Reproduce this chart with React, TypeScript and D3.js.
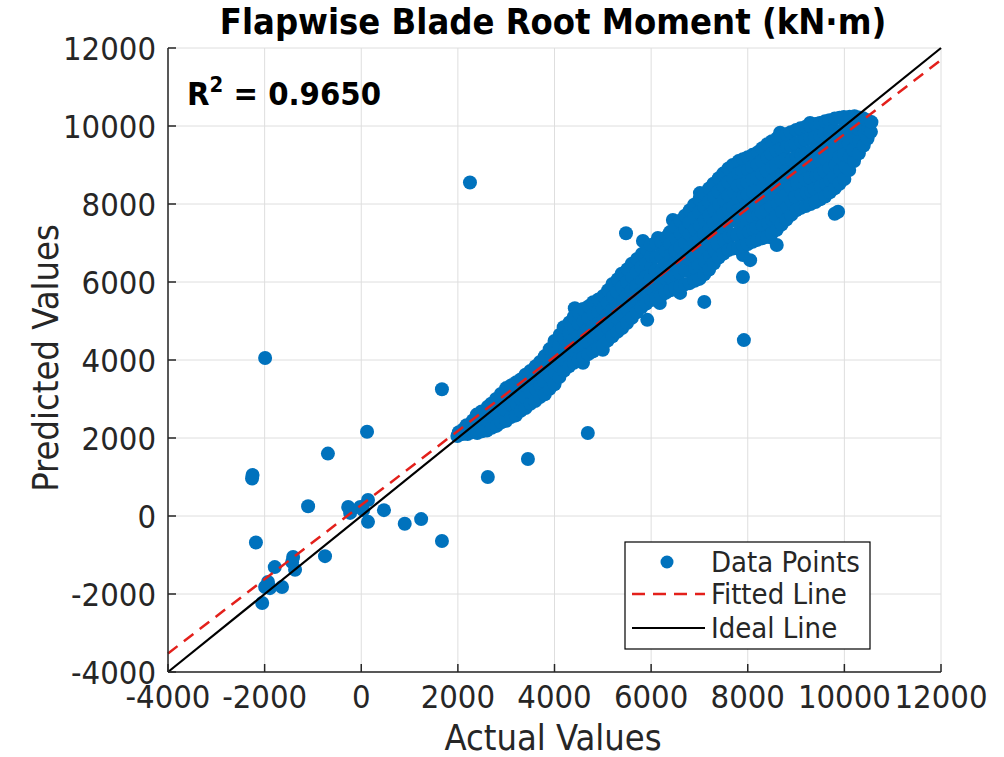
import React from "react";
import * as d3 from "d3";

const xTicks = [-4000, -2000, 0, 2000, 4000, 6000, 8000, 10000, 12000];
const yTicks = [-4000, -2000, 0, 2000, 4000, 6000, 8000, 10000, 12000];

const fitSlope = 0.951;
const fitIntercept = 280;
const rSquared = "0.9650";

// dense band of [actual, predicted] pairs
const cloudPoints: [number, number][] = [
  [1990, 2050], [2020, 2150],
  [2100, 2100], [2110, 2220],
  [2200, 2100], [2180, 2330],
  [2300, 2150], [2290, 2300], [2310, 2450],
  [2400, 2130], [2420, 2365], [2390, 2600],
  [2500, 2170], [2510, 2420], [2490, 2680],
  [2600, 2190], [2580, 2495], [2620, 2800],
  [2700, 2260], [2710, 2560], [2690, 2880],
  [2800, 2310], [2820, 2655], [2790, 3000],
  [2900, 2400], [2910, 2780], [2890, 3130],
  [3000, 2440], [2980, 2720], [3020, 3000], [3000, 3280],
  [3100, 2540], [3110, 2850], [3090, 3150], [3100, 3350],
  [3200, 2580], [3220, 2865], [3190, 3150], [3210, 3430],
  [3300, 2700], [3310, 3000], [3290, 3250], [3300, 3500],
  [3400, 2770], [3380, 3050], [3420, 3335], [3400, 3620],
  [3500, 2880], [3510, 3180], [3490, 3460], [3500, 3720],
  [3600, 2950], [3620, 3250], [3590, 3545], [3610, 3840],
  [3700, 3050], [3710, 3350], [3690, 3650], [3700, 3950],
  [3800, 3120], [3780, 3445], [3820, 3775], [3800, 4100],
  [3900, 3260], [3910, 3580], [3890, 3900], [3900, 4280],
  [4000, 3380], [4020, 3660], [3990, 3935], [4010, 4210], [4000, 4490],
  [4100, 3560], [4110, 3840], [4090, 4100], [4100, 4380], [4110, 4650],
  [4200, 3730], [4180, 4010], [4220, 4285], [4200, 4565], [4190, 4840],
  [4300, 3840], [4310, 4140], [4290, 4400], [4300, 4680], [4310, 4960],
  [4400, 3930], [4420, 4225], [4390, 4520], [4410, 4815], [4400, 5110],
  [4500, 4000], [4510, 4320], [4490, 4620], [4500, 4920], [4510, 5200],
  [4600, 4070], [4580, 4380], [4620, 4690], [4600, 5000], [4590, 5310],
  [4700, 4150], [4710, 4460], [4690, 4770], [4700, 5080], [4710, 5380],
  [4800, 4220], [4820, 4535], [4790, 4850], [4810, 5165], [4800, 5480],
  [4900, 4300], [4910, 4620], [4890, 4930], [4900, 5250], [4910, 5550],
  [5000, 4380], [4980, 4695], [5020, 5010], [5000, 5325], [5010, 5640],
  [5100, 4500], [5110, 4820], [5090, 5150], [5100, 5470], [5110, 5790],
  [5200, 4610], [5220, 4945], [5190, 5280], [5210, 5615], [5200, 5950],
  [5300, 4720], [5310, 5060], [5290, 5400], [5300, 5740], [5310, 6070],
  [5400, 4820], [5380, 5170], [5420, 5515], [5400, 5865], [5390, 6210],
  [5500, 4950], [5510, 5300], [5490, 5650], [5500, 6000], [5510, 6330],
  [5600, 5080], [5620, 5430], [5590, 5775], [5610, 6125], [5600, 6470],
  [5700, 5220], [5710, 5560], [5690, 5900], [5700, 6250], [5710, 6590],
  [5800, 5350], [5780, 5690], [5820, 6035], [5800, 6380], [5810, 6720],
  [5900, 5450], [5910, 5790], [5890, 6130], [5900, 6480], [5910, 6830],
  [6000, 5540], [6020, 5820], [5990, 6105], [6010, 6385], [6000, 6670], [5990, 6950],
  [6100, 5590], [6110, 5940], [6090, 6290], [6100, 6640], [6110, 6990],
  [6200, 5640], [6180, 5990], [6220, 6335], [6200, 6685], [6210, 7030],
  [6300, 5720], [6310, 6080], [6290, 6440], [6300, 6800], [6310, 7150],
  [6400, 5790], [6420, 6090], [6390, 6385], [6410, 6685], [6400, 6980], [6390, 7280],
  [6500, 5850], [6510, 6170], [6490, 6490], [6500, 6800], [6510, 7110], [6500, 7420],
  [6600, 5900], [6580, 6235], [6620, 6570], [6600, 6900], [6610, 7235], [6600, 7570],
  [6700, 5940], [6710, 6290], [6690, 6650], [6700, 7000], [6710, 7350], [6700, 7700],
  [6800, 5970], [6820, 6280], [6790, 6590], [6810, 6905], [6800, 7215], [6790, 7525], [6800, 7840],
  [6900, 6030], [6910, 6360], [6890, 6680], [6900, 7010], [6910, 7340], [6900, 7660], [6890, 7980],
  [7000, 6080], [6980, 6420], [7020, 6760], [7000, 7105], [7010, 7445], [6990, 7790], [7000, 8130],
  [7100, 6200], [7110, 6540], [7090, 6890], [7100, 7230], [7110, 7580], [7100, 7920], [7090, 8260],
  [7200, 6320], [7220, 6665], [7190, 7015], [7210, 7360], [7200, 7705], [7190, 8055], [7200, 8400],
  [7300, 6480], [7310, 6820], [7290, 7160], [7300, 7500], [7310, 7840], [7300, 8180], [7290, 8520],
  [7400, 6630], [7380, 6970], [7420, 7305], [7400, 7645], [7410, 7985], [7390, 8320], [7400, 8660],
  [7500, 6730], [7510, 7070], [7490, 7410], [7500, 7760], [7510, 8100], [7500, 8440], [7490, 8780],
  [7600, 6820], [7620, 7170], [7590, 7515], [7610, 7865], [7600, 8215], [7590, 8560], [7600, 8910],
  [7700, 6860], [7710, 7220], [7690, 7580], [7700, 7930], [7710, 8290], [7700, 8650], [7690, 9000],
  [7800, 6890], [7780, 7205], [7820, 7520], [7800, 7840], [7810, 8155], [7790, 8470], [7800, 8785], [7810, 9100],
  [7900, 6930], [7910, 7250], [7890, 7570], [7900, 7880], [7910, 8200], [7900, 8520], [7890, 8830], [7900, 9150],
  [8000, 6970], [8020, 7290], [7990, 7605], [8010, 7925], [8000, 8245], [7990, 8560], [8010, 8880], [8000, 9200],
  [8100, 7030], [8110, 7350], [8090, 7670], [8100, 7990], [8110, 8310], [8100, 8630], [8090, 8950], [8100, 9260],
  [8200, 7080], [8180, 7400], [8220, 7720], [8200, 8045], [8210, 8365], [8190, 8685], [8200, 9010], [8210, 9330],
  [8300, 7120], [8310, 7450], [8290, 7780], [8300, 8110], [8310, 8440], [8300, 8770], [8290, 9100], [8300, 9430],
  [8400, 7160], [8420, 7500], [8390, 7840], [8410, 8175], [8400, 8515], [8390, 8855], [8410, 9190], [8400, 9530],
  [8500, 7250], [8510, 7590], [8490, 7930], [8500, 8270], [8510, 8600], [8500, 8940], [8490, 9280], [8500, 9610],
  [8600, 7340], [8580, 7675], [8620, 8010], [8600, 8350], [8610, 8685], [8590, 9020], [8600, 9355], [8610, 9690],
  [8700, 7470], [8710, 7800], [8690, 8120], [8700, 8450], [8710, 8770], [8700, 9090], [8690, 9420], [8700, 9740],
  [8800, 7600], [8820, 7915], [8790, 8225], [8810, 8540], [8800, 8850], [8790, 9165], [8810, 9475], [8800, 9790],
  [8900, 7720], [8910, 8070], [8890, 8430], [8900, 8780], [8910, 9140], [8900, 9490], [8890, 9840],
  [9000, 7840], [8980, 8185], [9020, 8525], [9000, 8870], [9010, 9215], [8990, 9555], [9000, 9900],
  [9100, 7900], [9110, 8240], [9090, 8580], [9100, 8920], [9110, 9260], [9100, 9600], [9090, 9940],
  [9200, 7950], [9220, 8290], [9190, 8625], [9210, 8965], [9200, 9305], [9190, 9640], [9200, 9980],
  [9300, 8000], [9310, 8340], [9290, 8670], [9300, 9010], [9310, 9340], [9300, 9680], [9290, 10010],
  [9400, 8050], [9380, 8385], [9420, 8715], [9400, 9050], [9410, 9385], [9390, 9715], [9400, 10050],
  [9500, 8120], [9510, 8450], [9490, 8770], [9500, 9100], [9510, 9430], [9500, 9760], [9490, 10080],
  [9600, 8190], [9620, 8510], [9590, 8830], [9610, 9155], [9600, 9475], [9590, 9800], [9600, 10120],
  [9700, 8300], [9710, 8610], [9690, 8920], [9700, 9230], [9710, 9540], [9700, 9850], [9690, 10150],
  [9800, 8400], [9780, 8700], [9820, 8995], [9800, 9295], [9810, 9595], [9790, 9890], [9800, 10190],
  [9900, 8520], [9910, 8860], [9890, 9200], [9900, 9530], [9910, 9870], [9900, 10210],
  [10000, 8640], [10020, 8958], [9990, 9276], [10010, 9594], [10000, 9912], [9990, 10230],
  [10100, 8870], [10110, 9210], [10090, 9550], [10100, 9900], [10110, 10240],
  [10200, 9100], [10180, 9390], [10220, 9675], [10200, 9965], [10210, 10250],
  [10300, 9300], [10310, 9610], [10290, 9920], [10300, 10220],
  [10400, 9500], [10420, 9850], [10390, 10200],
  [10480, 9680], [10490, 9920], [10470, 10150],
  [10550, 9850], [10560, 10100],
];

// isolated points away from the band
const outlierPoints: [number, number][] = [
  [2250, 8550], [-1990, 4050], [-2250, 1050], [-2260, 960], [-2180, -680],
  [-690, 1600], [-1100, 250], [120, 2160], [1670, 3250], [1670, -640],
  [900, -200], [1240, -80], [470, 150], [-750, -1030], [-270, 230],
  [-20, 230], [140, 410], [140, -150], [-230, 80], [40, 150],
  [-1410, -1050], [-1430, -1180], [-1370, -1380], [-1790, -1310], [-1640, -1820],
  [-1930, -1690], [-1890, -1850], [-2050, -2230], [-1990, -1820],
  [2620, 1000], [3450, 1460], [4690, 2130], [7920, 4510], [7100, 5490],
  [7900, 6130], [5920, 5030], [5480, 7250], [9870, 7800], [9800, 7750],
  [8460, 7150], [8600, 6950], [7900, 6690], [8050, 6560],
  [4420, 5330], [5830, 7050], [6140, 7130], [6450, 7590], [7010, 8280],
  [8670, 9830], [9290, 10080], [6180, 5460], [6600, 5720], [4590, 3930], [5000, 4260],
];

const legendLabels = ["Data Points", "Fitted Line", "Ideal Line"];

const BLUE = "#0072BD";
const RED = "#e3201b";
const AXIS = "#262626";
const GRID = "#dedede";
const FONT = "'DejaVu Sans Condensed', 'DejaVu Sans', sans-serif";

export default function App() {
  const x = d3.scaleLinear().domain([-4000, 12000]).range([168, 941]);
  const y = d3.scaleLinear().domain([-4000, 12000]).range([672, 48]);
  const [x0, x1] = x.domain();
  const line = d3
    .line<[number, number]>()
    .x((d) => x(d[0]))
    .y((d) => y(d[1]));
  const idealPts: [number, number][] = [[x0, x0], [x1, x1]];
  const fitPts: [number, number][] = [
    [x0, fitSlope * x0 + fitIntercept],
    [x1, fitSlope * x1 + fitIntercept],
  ];
  const allPoints = [...outlierPoints, ...cloudPoints];
  const tickLen = 8;
  const lg = { x: 625, y: 542, w: 245, h: 107 };
  const rowY = [562, 594, 628];

  return (
    <svg
      width={1004}
      height={757}
      style={{ position: "absolute", left: 0, top: 0, background: "#fff" }}
      fontFamily={FONT}
      fontStretch="condensed"
    >
      <rect x={0} y={0} width={1004} height={757} fill="#fff" />
      {xTicks.map((t) => (
        <line key={"gx" + t} x1={x(t)} x2={x(t)} y1={y.range()[0]} y2={y.range()[1]} stroke={GRID} strokeWidth={1} />
      ))}
      {yTicks.map((t) => (
        <line key={"gy" + t} y1={y(t)} y2={y(t)} x1={x.range()[0]} x2={x.range()[1]} stroke={GRID} strokeWidth={1} />
      ))}
      {allPoints.map((p, i) => (
        <circle key={"p" + i} cx={x(p[0])} cy={y(p[1])} r={7} fill={BLUE} />
      ))}
      <path d={line(fitPts) || ""} stroke={RED} strokeWidth={2.5} strokeDasharray="12 8" fill="none" />
      <path d={line(idealPts) || ""} stroke="#000" strokeWidth={2.2} fill="none" />
      <line x1={x.range()[0]} x2={x.range()[1]} y1={y.range()[0]} y2={y.range()[0]} stroke={AXIS} strokeWidth={1.5} />
      <line x1={x.range()[0]} x2={x.range()[0]} y1={y.range()[0]} y2={y.range()[1]} stroke={AXIS} strokeWidth={1.5} />
      {xTicks.map((t) => (
        <g key={"xt" + t}>
          <line x1={x(t)} x2={x(t)} y1={y.range()[0]} y2={y.range()[0] - tickLen} stroke={AXIS} strokeWidth={1.5} />
          <text x={x(t)} y={708} textAnchor="middle" fontSize={32.5} fill={AXIS}>
            {t}
          </text>
        </g>
      ))}
      {yTicks.map((t) => (
        <g key={"yt" + t}>
          <line x1={x.range()[0]} x2={x.range()[0] + tickLen} y1={y(t)} y2={y(t)} stroke={AXIS} strokeWidth={1.5} />
          <text x={156} y={y(t)} dy="0.36em" textAnchor="end" fontSize={32.5} fill={AXIS}>
            {t}
          </text>
        </g>
      ))}
      <text x={553} y={750} textAnchor="middle" fontSize={36} fill={AXIS}>
        Actual Values
      </text>
      <text transform="translate(58,358) rotate(-90)" textAnchor="middle" fontSize={36} fill={AXIS}>
        Predicted Values
      </text>
      <text x={553} y={34} textAnchor="middle" fontSize={36} fontWeight="bold" fill="#000">
        Flapwise Blade Root Moment (kN·m)
      </text>
      <text x={187} y={105} fontSize={32.5} fontWeight="bold" fill="#000">
        R<tspan dy={-13} fontSize={22}>2</tspan>
        <tspan dy={13}>{" = " + rSquared}</tspan>
      </text>
      <rect x={lg.x} y={lg.y} width={lg.w} height={lg.h} fill="#fff" stroke="#000" strokeWidth={1.2} />
      <circle cx={667} cy={rowY[0]} r={6.5} fill={BLUE} />
      <line x1={632} x2={705} y1={rowY[1]} y2={rowY[1]} stroke={RED} strokeWidth={2.5} strokeDasharray="13 8" />
      <line x1={632} x2={705} y1={rowY[2]} y2={rowY[2]} stroke="#000" strokeWidth={2.2} />
      {legendLabels.map((l, i) => (
        <text key={l} x={711} y={rowY[i]} dy="0.36em" fontSize={29} fill={AXIS}>
          {l}
        </text>
      ))}
    </svg>
  );
}
